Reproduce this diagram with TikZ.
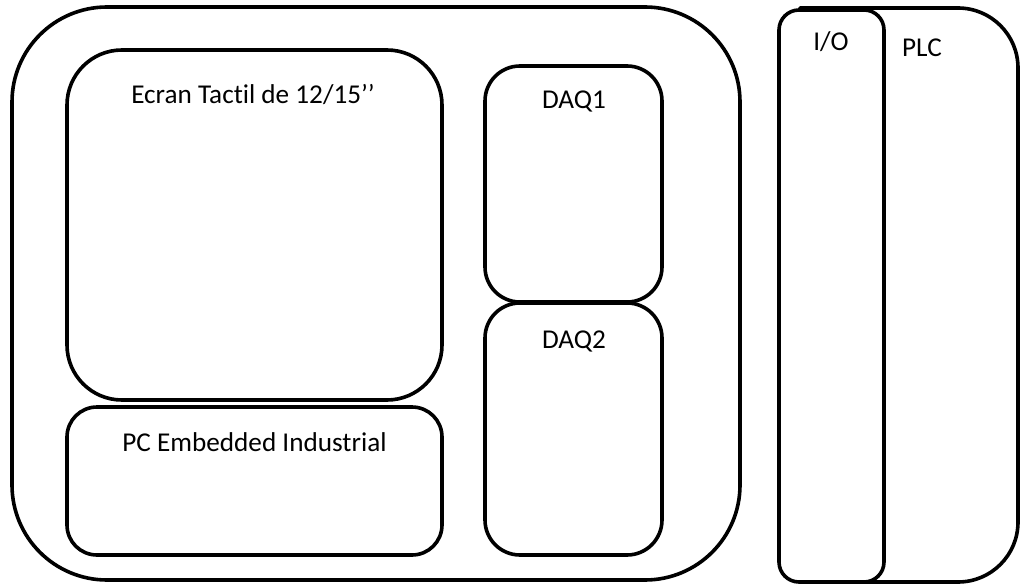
\documentclass[tikz,border=0pt]{standalone}
\usepackage{fontspec}
\setmainfont[Ligatures={TeX,NoCommon}]{Carlito}
\begin{document}
\begin{tikzpicture}[x=1pt,y=-1pt,
  box/.style={draw=black, line width=3.6pt, fill=white, inner sep=0pt, outer sep=0pt},
  lbl/.style={inner sep=0pt, font=\fontsize{27.2}{32}\selectfont, anchor=base}]
\useasboundingbox (0,0) rectangle (1023,586);
% outer enclosure
\node[box, rounded corners=95pt, minimum width=728pt, minimum height=573pt] (outer) at (376,293.5) {};
\node[box, rounded corners=55pt, minimum width=375pt, minimum height=350pt] (ecran) at (254.5,225) {};
\node[box, rounded corners=30pt, minimum width=375pt, minimum height=148pt] (pc) at (254.5,481) {};
\node[box, rounded corners=35pt, minimum width=177pt, minimum height=236pt] (daq1) at (573.5,184) {};
\node[box, rounded corners=35pt, minimum width=177pt, minimum height=252pt] (daq2) at (573.5,429) {};
% PLC body (left side hidden behind the I/O module)
\draw[box, line join=round] (800,8) -- (958,8) arc[start angle=-90, end angle=0, radius=60]
  -- (1018,522) arc[start angle=0, end angle=90, radius=60] -- (800,582) -- cycle;
\node[box, rounded corners=20pt, minimum width=105pt, minimum height=572pt] (io) at (831.5,296) {};
% labels
\node[lbl] (ecrant) at (253,103) {Ecran Tactil de 12/15’’};
\node[lbl] (pct) at (254.5,451) {PC Embedded Industrial};
\node[lbl] (daq1t) at (574,108) {DAQ1};
\node[lbl] (daq2t) at (574,348) {DAQ2};
\node[lbl] (iot) at (831,51) {I/O};
\node[lbl] (plct) at (922,57) {PLC};
\end{tikzpicture}
\end{document}
